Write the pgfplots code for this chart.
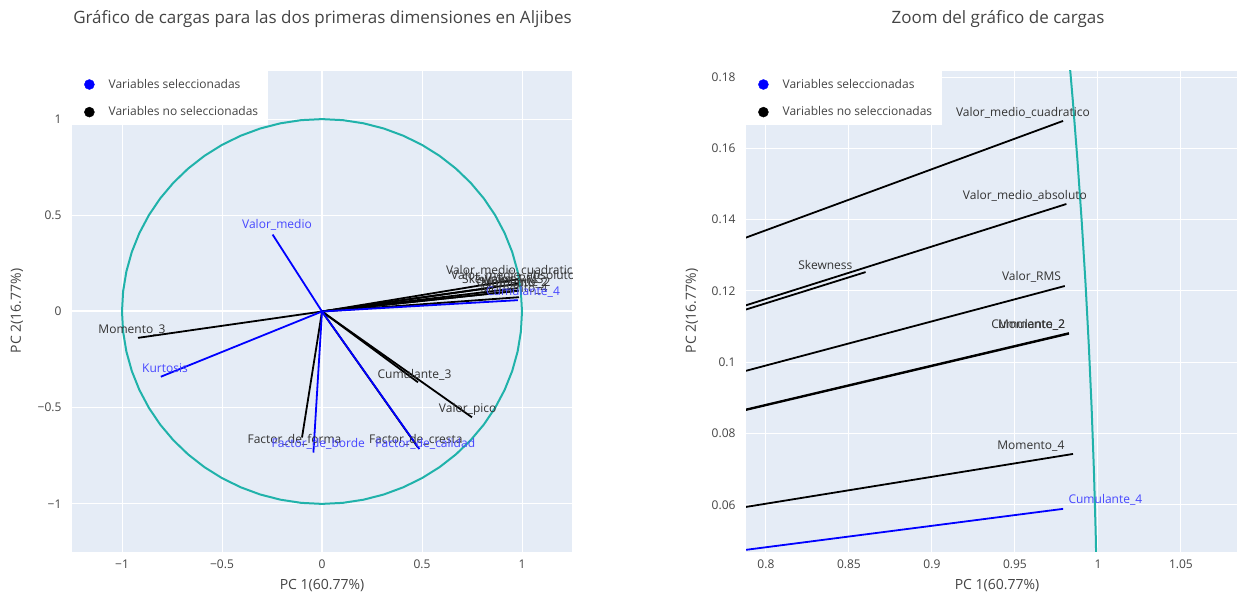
\documentclass[border=0pt]{standalone}
\usepackage{pgfplots}
\pgfplotsset{compat=1.18}
\usepackage{fontspec}
\setmainfont{Open Sans}
\definecolor{bgplot}{HTML}{E5ECF6}
\definecolor{txt}{HTML}{444444}
\definecolor{circ}{HTML}{20B2AA}
\definecolor{bluelab}{rgb}{0.28,0.28,1}
\definecolor{blacklab}{HTML}{333333}
\newcommand{\fs}[1]{\fontsize{#1}{#1}\selectfont}
\newcommand{\loadblack}[2]{\addplot[black, line width=1.8pt] coordinates {(0,0) (#1,#2)};}
\newcommand{\loadblue}[2]{\addplot[blue, line width=1.8pt] coordinates {(0,0) (#1,#2)};}
\newcommand{\lab}[3]{\node[text=blacklab, font=\fs{12}, inner sep=0pt] at (axis cs:#1,#2) {#3};}
\newcommand{\blab}[3]{\node[text=bluelab, font=\fs{12}, inner sep=0pt] at (axis cs:#1,#2) {#3};}
\pgfplotsset{
  pcastyle/.style={
    scale only axis,
    axis background/.style={fill=bgplot},
    axis line style={draw=none},
    major tick length=0pt,
    grid=major,
    major grid style={white, line width=1pt},
    tick label style={font=\fs{12}, text=txt},
    xticklabel style={yshift=-4.5pt},
    yticklabel style={xshift=-7pt},
    legend style={at={(0,1)}, anchor=north west, draw=none, fill=white,
      font=\fs{12}, text=txt, inner xsep=8pt, inner ysep=6pt, row sep=13pt},
    legend cell align=left,
  },
  bluedot/.style={legend image code/.code={\path (0pt,0pt) (26pt,0pt); \fill[blue] (9pt,0pt) circle [radius=5pt];}},
  blackdot/.style={legend image code/.code={\path (0pt,0pt) (26pt,0pt); \fill[black] (9pt,0pt) circle [radius=5pt];}},
}
\begin{document}
\begin{tikzpicture}[x=1pt,y=1pt]
\useasboundingbox (0,0) rectangle (1237,592);
% ---------------- left plot ----------------
\begin{axis}[pcastyle,
  at={(72pt,40pt)}, anchor=south west,
  width=500pt, height=481pt,
  xmin=-1.25, xmax=1.25, ymin=-1.25, ymax=1.25,
  xtick={-1,-0.5,0,0.5,1}, xticklabels={−1,−0.5,0,0.5,1},
  ytick={-1,-0.5,0,0.5,1}, yticklabels={−1,−0.5,0,0.5,1},
  extra x ticks={0}, extra y ticks={0},
  extra x tick labels={}, extra y tick labels={},
  extra tick style={major grid style={white, line width=2pt}},
]
\addlegendimage{bluedot}
\addlegendentry{Variables seleccionadas}
\addlegendimage{blackdot}
\addlegendentry{Variables no seleccionadas}
\addplot[circ, line width=2pt, forget plot] coordinates {
(1,0) (0.9945,0.1045) (0.9781,0.2079) (0.9511,0.3090) (0.9135,0.4067) (0.8660,0.5)
(0.8090,0.5878) (0.7431,0.6691) (0.6691,0.7431) (0.5878,0.8090) (0.5,0.8660)
(0.4067,0.9135) (0.3090,0.9511) (0.2079,0.9781) (0.1045,0.9945) (0,1)
(-0.1045,0.9945) (-0.2079,0.9781) (-0.3090,0.9511) (-0.4067,0.9135) (-0.5,0.8660)
(-0.5878,0.8090) (-0.6691,0.7431) (-0.7431,0.6691) (-0.8090,0.5878) (-0.8660,0.5)
(-0.9135,0.4067) (-0.9511,0.3090) (-0.9781,0.2079) (-0.9945,0.1045) (-1,0)
(-0.9945,-0.1045) (-0.9781,-0.2079) (-0.9511,-0.3090) (-0.9135,-0.4067) (-0.8660,-0.5)
(-0.8090,-0.5878) (-0.7431,-0.6691) (-0.6691,-0.7431) (-0.5878,-0.8090) (-0.5,-0.8660)
(-0.4067,-0.9135) (-0.3090,-0.9511) (-0.2079,-0.9781) (-0.1045,-0.9945) (0,-1)
(0.1045,-0.9945) (0.2079,-0.9781) (0.3090,-0.9511) (0.4067,-0.9135) (0.5,-0.8660)
(0.5878,-0.8090) (0.6691,-0.7431) (0.7431,-0.6691) (0.8090,-0.5878) (0.8660,-0.5)
(0.9135,-0.4067) (0.9511,-0.3090) (0.9781,-0.2079) (0.9945,-0.1045) (1,0)
};
\loadblack{0.979}{0.1677}
\loadblack{0.981}{0.1444}
\loadblack{0.860}{0.1253}
\loadblack{0.980}{0.1214}
\loadblack{0.9825}{0.1082}
\loadblack{0.9825}{0.1080}
\loadblack{0.985}{0.0743}
\loadblack{-0.92}{-0.137}
\loadblack{0.48}{-0.368}
\loadblack{0.75}{-0.55}
\loadblack{-0.10}{-0.655}
\loadblack{0.48}{-0.707}
\loadblue{-0.247}{0.40}
\loadblue{-0.806}{-0.339}
\loadblue{-0.043}{-0.733}
\loadblue{0.487}{-0.715}
\loadblue{0.979}{0.0589}
\lab{0.955}{0.211}{Valor\_medio\_cuadratico}
\lab{0.956}{0.186}{Valor\_medio\_absoluto}
\lab{0.836}{0.167}{Skewness}
\lab{0.960}{0.163}{Valor\_RMS}
\lab{0.958}{0.150}{Cumulante\_2}
\lab{0.962}{0.150}{Momento\_2}
\lab{0.960}{0.116}{Momento\_4}
\lab{-0.95}{-0.094}{Momento\_3}
\lab{0.4625}{-0.328}{Cumulante\_3}
\lab{0.7285}{-0.507}{Valor\_pico}
\lab{-0.1375}{-0.667}{Factor\_de\_forma}
\lab{0.469}{-0.667}{Factor\_de\_cresta}
\blab{-0.225}{0.448}{Valor\_medio}
\blab{-0.785}{-0.297}{Kurtosis}
\blab{-0.0185}{-0.689}{Factor\_de\_borde}
\blab{0.5165}{-0.6875}{Factor\_de\_calidad}
\blab{1.005}{0.1006}{Cumulante\_4}
\end{axis}
% ---------------- right plot ----------------
\begin{axis}[pcastyle,
  at={(746pt,40pt)}, anchor=south west,
  width=502pt, height=481pt,
  xmin=0.788, xmax=1.0904, ymin=0.0468, ymax=0.1817,
  xtick={0.8,0.85,0.9,0.95,1,1.05}, xticklabels={0.8,0.85,0.9,0.95,1,1.05},
  ytick={0.06,0.08,0.1,0.12,0.14,0.16,0.18}, yticklabels={0.06,0.08,0.1,0.12,0.14,0.16,0.18},
]
\addlegendimage{bluedot}
\addlegendentry{Variables seleccionadas}
\addlegendimage{blackdot}
\addlegendentry{Variables no seleccionadas}
\addplot[circ, line width=2pt, forget plot] coordinates {
(1,0) (0.99985,0.01745) (0.99939,0.03490) (0.99863,0.05234) (0.99756,0.06976)
(0.99619,0.08716) (0.99452,0.10453) (0.99255,0.12187) (0.99027,0.13917)
(0.98769,0.15643) (0.98481,0.17365) (0.98163,0.19081) (0.97815,0.20791)
};
\loadblack{0.979}{0.1677}
\loadblack{0.981}{0.1444}
\loadblack{0.860}{0.1253}
\loadblack{0.980}{0.1214}
\loadblack{0.9825}{0.1082}
\loadblack{0.9825}{0.1080}
\loadblack{0.985}{0.0743}
\loadblue{0.979}{0.0589}
\lab{0.9548}{0.1699}{Valor\_medio\_cuadratico}
\lab{0.956}{0.1466}{Valor\_medio\_absoluto}
\lab{0.8358}{0.1273}{Skewness}
\lab{0.960}{0.1239}{Valor\_RMS}
\lab{0.958}{0.1105}{Cumulante\_2}
\lab{0.960}{0.1105}{Momento\_2}
\lab{0.9596}{0.0766}{Momento\_4}
\blab{1.0045}{0.0614}{Cumulante\_4}
\end{axis}
% ---------------- titles and axis labels ----------------
\node[text=txt, font=\fs{17}] at (322.5,573) {Gráfico de cargas para las dos primeras dimensiones en Aljibes};
\node[text=txt, font=\fs{17}] at (998,573) {Zoom del gráfico de cargas};
\node[text=txt, font=\fs{14}] at (322,6) {PC 1(60.77\%)};
\node[text=txt, font=\fs{14}] at (997,6) {PC 1(60.77\%)};
\node[text=txt, font=\fs{14}, rotate=90] at (17,281) {PC 2(16.77\%)};
\node[text=txt, font=\fs{14}, rotate=90] at (692,281) {PC 2(16.77\%)};
\end{tikzpicture}
\end{document}
